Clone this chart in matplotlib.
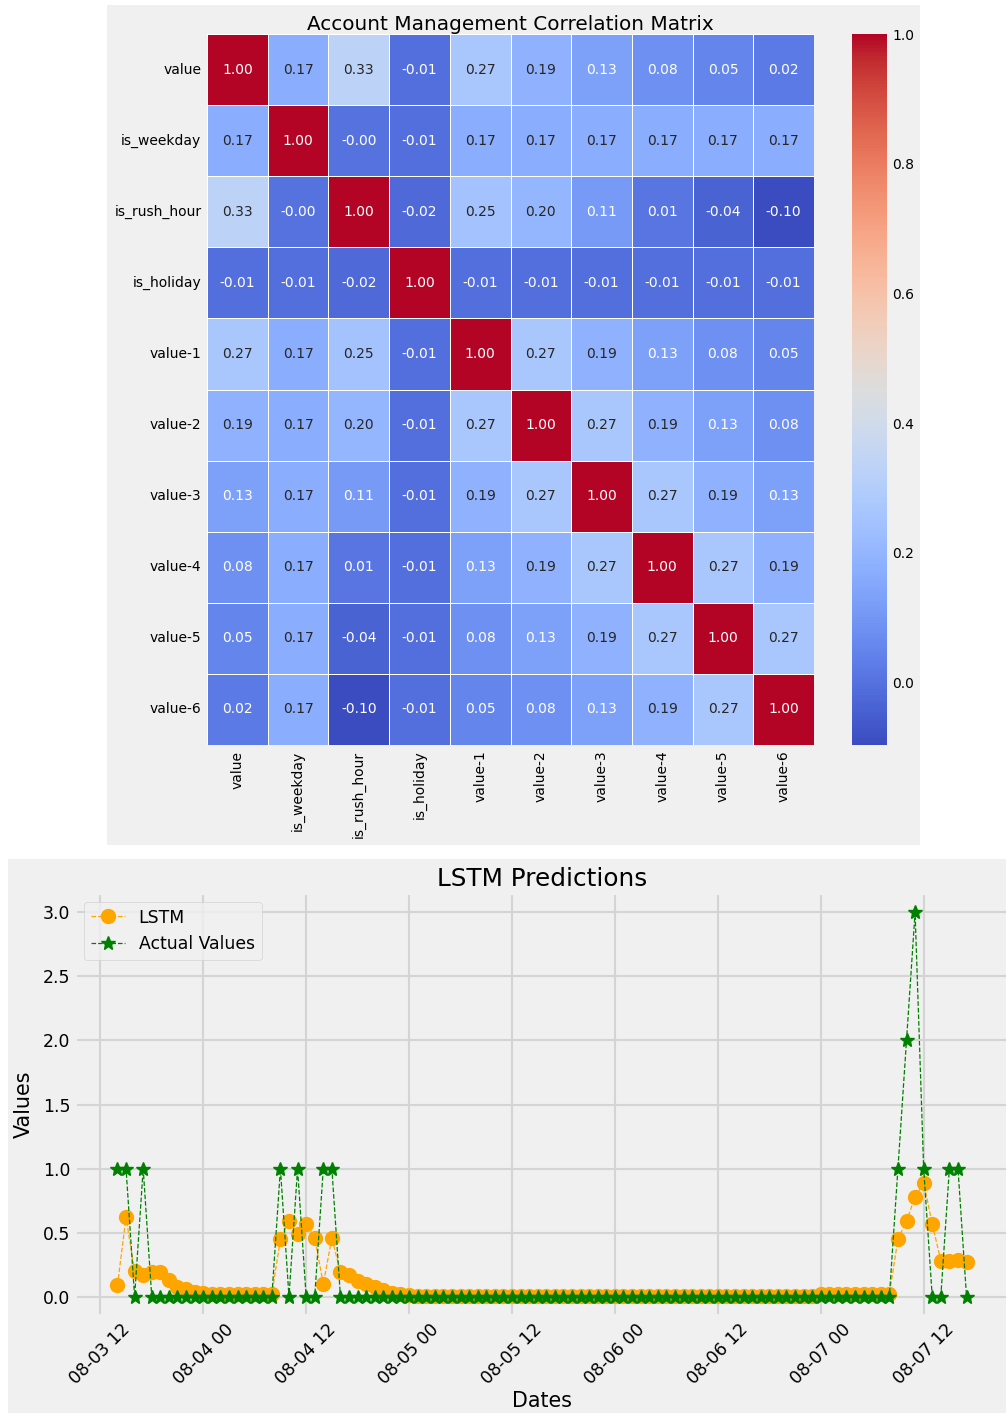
import matplotlib
matplotlib.use("Agg")
import matplotlib.pyplot as plt
import matplotlib.dates as mdates
from matplotlib.patches import Rectangle
import seaborn as sns
import numpy as np
import pandas as pd

# ---------------- data ----------------
features = ["value", "is_weekday", "is_rush_hour", "is_holiday",
            "value-1", "value-2", "value-3", "value-4", "value-5", "value-6"]

corr_rows = [
    [1.00, 0.17, 0.33, -0.01, 0.27, 0.19, 0.13, 0.08, 0.05, 0.02],
    [0.17, 1.00, -0.001, -0.01, 0.17, 0.17, 0.17, 0.17, 0.17, 0.17],
    [0.33, -0.001, 1.00, -0.02, 0.25, 0.20, 0.11, 0.01, -0.04, -0.096],
    [-0.01, -0.01, -0.02, 1.00, -0.01, -0.01, -0.01, -0.01, -0.01, -0.01],
    [0.27, 0.17, 0.25, -0.01, 1.00, 0.27, 0.19, 0.13, 0.08, 0.05],
    [0.19, 0.17, 0.20, -0.01, 0.27, 1.00, 0.27, 0.19, 0.13, 0.08],
    [0.13, 0.17, 0.11, -0.01, 0.19, 0.27, 1.00, 0.27, 0.19, 0.13],
    [0.08, 0.17, 0.01, -0.01, 0.13, 0.19, 0.27, 1.00, 0.27, 0.19],
    [0.05, 0.17, -0.04, -0.01, 0.08, 0.13, 0.19, 0.27, 1.00, 0.27],
    [0.02, 0.17, -0.096, -0.01, 0.05, 0.08, 0.13, 0.19, 0.27, 1.00],
]

start_time = "2024-08-03 14:00"
n_hours = 100

actual_values = [
    1, 1, 0, 1, 0, 0, 0, 0, 0, 0,
    0, 0, 0, 0, 0, 0, 0, 0, 0, 1,
    0, 1, 0, 0, 1, 1, 0, 0, 0, 0,
    0, 0, 0, 0, 0, 0, 0, 0, 0, 0,
    0, 0, 0, 0, 0, 0, 0, 0, 0, 0,
    0, 0, 0, 0, 0, 0, 0, 0, 0, 0,
    0, 0, 0, 0, 0, 0, 0, 0, 0, 0,
    0, 0, 0, 0, 0, 0, 0, 0, 0, 0,
    0, 0, 0, 0, 0, 0, 0, 0, 0, 0,
    0, 1, 2, 3, 1, 0, 0, 1, 1, 0,
]

lstm_values = [
    0.09, 0.62, 0.20, 0.17, 0.19, 0.19, 0.13, 0.08, 0.06, 0.04,
    0.03, 0.02, 0.02, 0.02, 0.02, 0.02, 0.02, 0.02, 0.02, 0.45,
    0.59, 0.49, 0.57, 0.46, 0.10, 0.46, 0.19, 0.17, 0.12, 0.10,
    0.08, 0.05, 0.03, 0.02, 0.01, 0.005, 0.005, 0.005, 0.005, 0.005,
    0.005, 0.005, 0.005, 0.005, 0.005, 0.005, 0.005, 0.005, 0.005, 0.005,
    0.005, 0.005, 0.005, 0.005, 0.005, 0.005, 0.005, 0.005, 0.005, 0.005,
    0.005, 0.005, 0.005, 0.005, 0.005, 0.005, 0.005, 0.005, 0.005, 0.005,
    0.005, 0.005, 0.005, 0.005, 0.005, 0.005, 0.005, 0.005, 0.005, 0.005,
    0.005, 0.005, 0.02, 0.02, 0.02, 0.02, 0.02, 0.02, 0.02, 0.02,
    0.02, 0.45, 0.59, 0.78, 0.89, 0.57, 0.28, 0.28, 0.29, 0.27,
]

# ---------------- figure ----------------
plt.style.use("fivethirtyeight")
plt.rcParams["font.family"] = ["DejaVu Sans"]
plt.rcParams["font.size"] = 10
DPI = 100
W, H = 1006, 1413
fig = plt.figure(figsize=(W / DPI, H / DPI), dpi=DPI, facecolor="white")


def box(x0, y0, x1, y1):
    return [x0 / W, 1 - y1 / H, (x1 - x0) / W, (y1 - y0) / H]


# light panels behind each chart
for (x0, y0, x1, y1) in [(107, 5, 920, 845), (8, 859, 1006, 1413)]:
    b = box(x0, y0, x1, y1)
    fig.patches.append(Rectangle((b[0], b[1]), b[2], b[3], transform=fig.transFigure,
                                 facecolor="#f0f0f0", edgecolor="none", zorder=-10))

# correlation heatmap
ax1 = fig.add_axes(box(207, 34, 814, 745))
cax = fig.add_axes(box(852, 34, 887, 745))
corr = pd.DataFrame(corr_rows, index=features, columns=features)
sns.heatmap(corr, annot=True, fmt=".2f", cmap="coolwarm", linewidths=0.6,
            linecolor="white", ax=ax1, cbar_ax=cax, annot_kws={"fontsize": 10})
ax1.set_title("Account Management Correlation Matrix", fontsize=14.4, pad=3)
ax1.set_yticklabels(features, rotation=0, fontsize=10)
ax1.set_xticklabels(features, rotation=90, fontsize=10)
ax1.tick_params(length=0, pad=4)
cax.tick_params(length=0, labelsize=10, pad=4)

# prediction line chart
BASE = 12.4
ax2 = fig.add_axes(box(75, 893, 1009, 1316))
dates = pd.date_range(start_time, periods=n_hours, freq="h")
ax2.plot(dates, lstm_values, color="orange", marker="o", linestyle="--",
         linewidth=0.9, markersize=10, label="LSTM")
ax2.plot(dates, actual_values, color="green", marker="*", linestyle="--",
         linewidth=0.9, markersize=10, label="Actual Values")
ax2.set_title("LSTM Predictions", fontsize=BASE * 1.44, pad=5)
ax2.set_xlabel("Dates", fontsize=BASE * 1.2, labelpad=2)
ax2.set_ylabel("Values", fontsize=BASE * 1.2, labelpad=6)
ax2.xaxis.set_major_locator(mdates.HourLocator(byhour=[0, 12]))
ax2.xaxis.set_major_formatter(mdates.DateFormatter("%m-%d %H"))
ax2.tick_params(labelsize=BASE)
plt.setp(ax2.get_xticklabels(), rotation=45)
ax2.set_yticks(np.arange(0, 3.01, 0.5))
ax2.grid(True, color="#d4d4d4", linewidth=1.5)
ax2.legend(loc="upper left", fontsize=BASE)

fig.savefig("out.png", dpi=DPI, facecolor="white")
